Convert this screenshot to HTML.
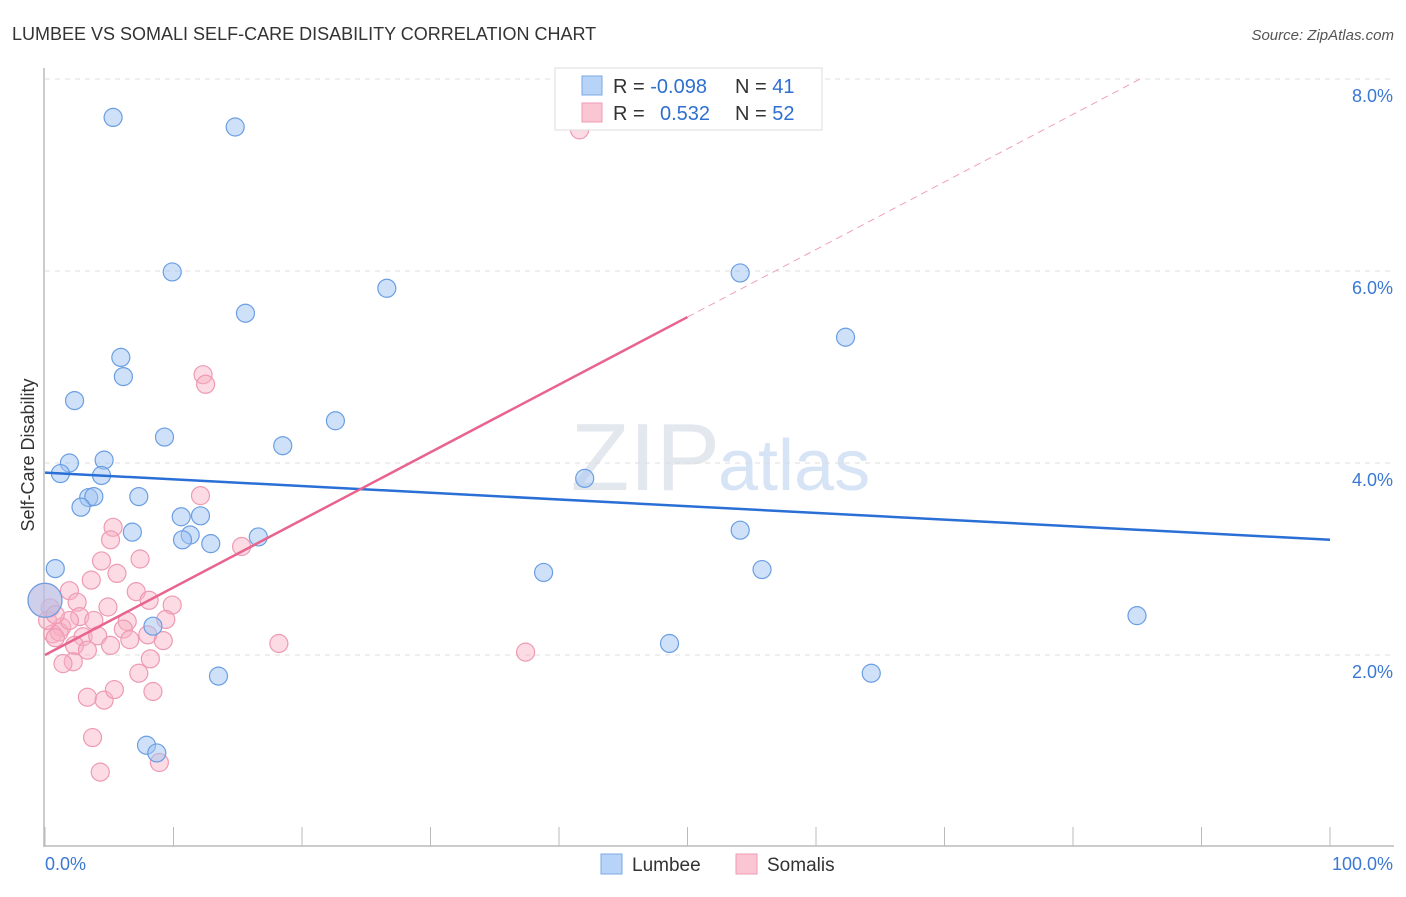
<!DOCTYPE html>
<html><head><meta charset="utf-8"><style>
body{margin:0;background:#fff;font-family:"Liberation Sans",sans-serif}
svg text{font-family:"Liberation Sans",sans-serif}
</style></head><body>
<svg id="c" width="1406" height="892">
<text x="12" y="40" font-size="18" fill="#333">LUMBEE VS SOMALI SELF-CARE DISABILITY CORRELATION CHART</text>
<text x="1394" y="40" font-size="15" fill="#555" text-anchor="end" font-style="italic">Source: ZipAtlas.com</text>
<text x="34" y="455" font-size="18" fill="#333" text-anchor="middle" transform="rotate(-90 34 455)">Self-Care Disability</text>
<text x="720" y="490" font-size="96" fill="#e3e7ee" text-anchor="end" font-family="Liberation Serif">ZIP</text>
<text x="718" y="490" font-size="72" fill="#d6e4f5">atlas</text>
<g id="grid"></g><g id="axes"></g><g id="pts"></g><g id="lines"></g>
<g>
<rect x="555" y="68" width="267" height="62" fill="#fff" stroke="#ddd"/>
<rect x="582" y="76" width="20" height="19" fill="#b7d3f7" stroke="#7aa8e6"/>
<rect x="582" y="103" width="20" height="19" fill="#fac6d4" stroke="#f09ab2"/>
<text x="613" y="93" font-size="20" fill="#333">R = <tspan fill="#2f6fd0">-0.098</tspan></text>
<text x="735" y="93" font-size="20" fill="#333">N = <tspan fill="#2f6fd0"> 41</tspan></text>
<text x="613" y="120" font-size="20" fill="#333">R = <tspan fill="#2f6fd0" x="660">0.532</tspan></text>
<text x="735" y="120" font-size="20" fill="#333">N = <tspan fill="#2f6fd0">52</tspan></text>
</g>
<g>
<rect x="601" y="854" width="21" height="20" fill="#b7d3f7" stroke="#7aa8e6"/>
<text x="632" y="871" font-size="19" fill="#333">Lumbee</text>
<rect x="736" y="854" width="21" height="20" fill="#fac6d4" stroke="#f09ab2"/>
<text x="767" y="871" font-size="19" fill="#333">Somalis</text>
</g>
</svg>
<script>
const yTicks=[2,4,6,8];
const yTickLabels=["2.0%","4.0%","6.0%","8.0%"];
const xTickLabels=["0.0%","100.0%"];
const lumbeeX=[5.3,14.8,9.9,26.6,54.1,15.6,62.3,5.9,6.1,2.3,22.6,9.3,18.5,1.9,4.6,1.2,4.4,3.4,3.8,2.8,7.3,42,10.6,12.1,6.8,11.3,10.7,12.9,16.6,54.1,0.8,38.8,55.8,84.98,8.4,48.6,13.5,64.3,7.9,8.7,0];
const lumbeeY=[7.6,7.5,5.99,5.82,5.98,5.56,5.31,5.1,4.9,4.65,4.44,4.27,4.18,4.0,4.03,3.89,3.87,3.64,3.65,3.54,3.65,3.84,3.44,3.45,3.28,3.25,3.2,3.16,3.23,3.3,2.9,2.86,2.89,2.41,2.3,2.12,1.78,1.81,1.06,0.98,2.57];
const somaliX=[41.6,12.3,12.5,12.1,5.3,5.1,15.3,4.4,7.4,5.6,3.6,1.9,7.1,2.5,8.1,4.9,9.9,0.4,2.7,6.4,3.8,9.4,1.3,0.6,1.1,2.96,4.1,6.1,8,9.2,0.8,2.3,3.3,18.2,37.4,8.2,2.2,1.4,7.3,3.3,4.6,5.4,8.4,3.7,4.3,8.9,0,0.2,5.1,6.6,1.9,0.8];
const somaliY=[7.47,4.92,4.82,3.66,3.33,3.2,3.13,2.98,3,2.85,2.78,2.67,2.66,2.55,2.57,2.5,2.52,2.49,2.4,2.35,2.36,2.37,2.29,2.22,2.24,2.19,2.2,2.27,2.21,2.15,2.18,2.1,2.05,2.12,2.03,1.96,1.93,1.91,1.81,1.56,1.53,1.64,1.62,1.14,0.78,0.88,2.57,2.36,2.1,2.16,2.36,2.42];
const lumbeeTrend=[3.9,3.2];
const somaliTrend=[2.0,5.52,8.0];
const X0=45,X1=1330,Y0=847,YS=96;
const sx=v=>X0+(X1-X0)*v/100, sy=v=>Y0-v*YS;
const NS="http://www.w3.org/2000/svg";
function mk(t,a,p){const e=document.createElementNS(NS,t);for(const k in a)e.setAttribute(k,a[k]);p.appendChild(e);return e;}
const grid=document.getElementById('grid'),axes=document.getElementById('axes'),pts=document.getElementById('pts'),lines=document.getElementById('lines');
yTicks.forEach((t,i)=>{
 const l=mk('line',{x1:45,x2:1394,y1:sy(t),y2:sy(t),stroke:'#ddd','stroke-dasharray':'5,5'},grid);
 
 
 const tx=mk('text',{x:1393,y:sy(t)+23,'font-size':18,fill:'#3a78d4','text-anchor':'end'},grid);
 tx.textContent=yTickLabels[i];
 
 
});
const topg=mk('line',{x1:45,x2:1394,y1:79,y2:79,stroke:'#ddd','stroke-dasharray':'5,5'},grid);


const ya=mk('line',{x1:44,x2:44,y1:68,y2:847,stroke:'#bbb','stroke-width':1.5},axes);


const xa=mk('line',{x1:44,x2:1394,y1:846,y2:846,stroke:'#bbb','stroke-width':1.5},axes);


for(let i=0;i<=10;i++){const t=mk('line',{x1:sx(i*10),x2:sx(i*10),y1:827,y2:846,stroke:'#bbb'},axes);
 
 }
[[0,'start'],[100,'end']].forEach((d,i)=>{const t=mk('text',{x:i?1393:45,y:870,'font-size':18,fill:'#3a78d4','text-anchor':d[1]},axes);t.textContent=xTickLabels[i];
 
 });
function dots(xs,ys,fill,stroke,name){xs.forEach((x,i)=>{const big=(x===0);
 const c=mk('circle',{cx:sx(x),cy:sy(ys[i]),r:big?17:9,fill:fill,stroke:stroke,'stroke-width':1.2},pts);
 
 });}
dots(somaliX,somaliY,'rgba(248,176,196,0.45)','#ee9ab3','somalis-point');
dots(lumbeeX,lumbeeY,'rgba(160,196,242,0.5)','#6a9ee3','lumbee-point');
const bl=mk('line',{x1:sx(0),y1:sy(lumbeeTrend[0]),x2:sx(100),y2:sy(lumbeeTrend[1]),stroke:'#2a6fd6','stroke-width':2.5},lines);


const pl=mk('line',{x1:sx(0),y1:sy(somaliTrend[0]),x2:sx(50),y2:sy(somaliTrend[1]),stroke:'#e8648f','stroke-width':2.5},lines);


const pd=mk('line',{x1:sx(50),y1:sy(somaliTrend[1]),x2:sx(50+(somaliTrend[2]-somaliTrend[1])/(somaliTrend[1]-somaliTrend[0])*50),y2:sy(somaliTrend[2]),stroke:'#efa0b8','stroke-width':1,'stroke-dasharray':'7,5'},lines);


</script>
</body></html>
